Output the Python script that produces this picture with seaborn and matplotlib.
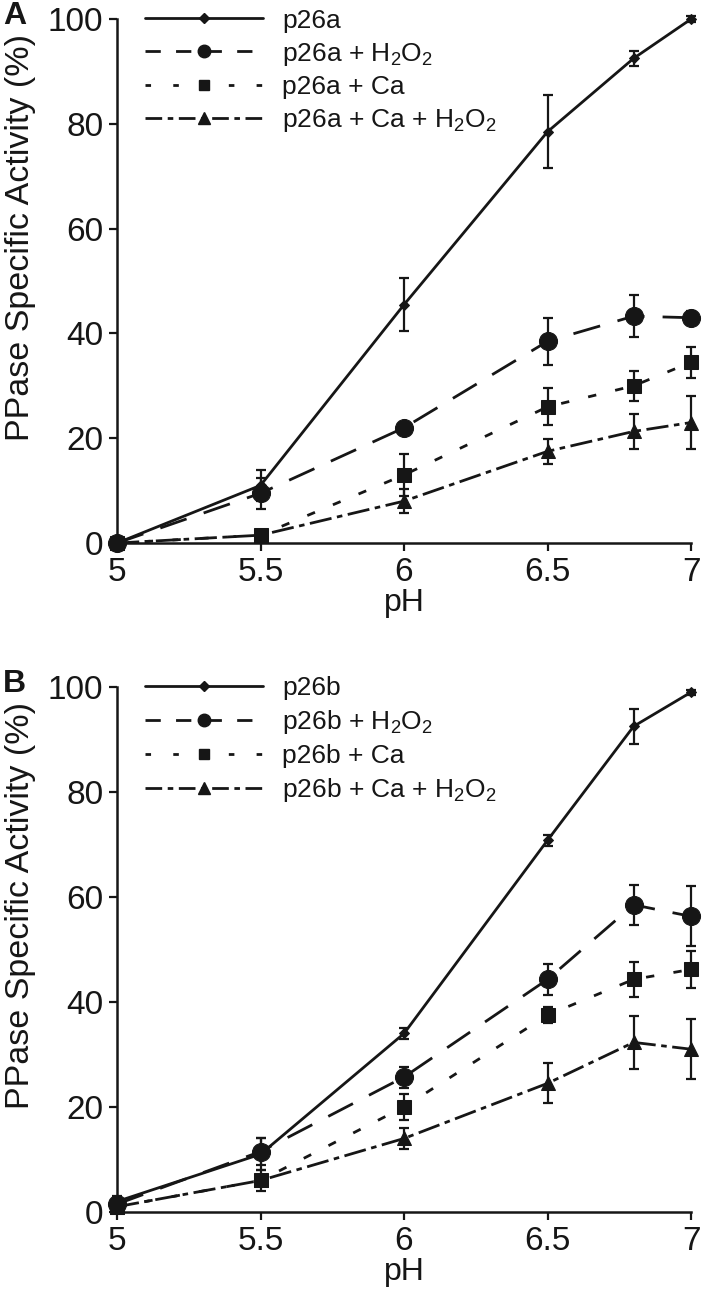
import numpy as np
import pandas as pd
import matplotlib
matplotlib.use("Agg")
import matplotlib.pyplot as plt
import seaborn as sns
from matplotlib.lines import Line2D

sns.set_theme(style="ticks")
plt.rcParams['font.family'] = ['Liberation Sans', 'DejaVu Sans']
plt.rcParams['mathtext.fontset'] = 'custom'
plt.rcParams['mathtext.rm'] = 'Liberation Sans'
plt.rcParams['mathtext.it'] = 'Liberation Sans'

ph = [5, 5.5, 6, 6.5, 6.8, 7]

# Panel A
a_p26a = [0, 11, 45.5, 78.5, 92.5, 100]
a_p26a_err = [0.5, 3, 5, 7, 1.5, 0.5]
a_h2o2 = [0, 9.5, 22, 38.5, 43.3, 43]
a_h2o2_err = [0.5, 3, 1, 4.5, 4, 1.2]
a_ca = [0, 1.5, 13, 26, 30, 34.5]
a_ca_err = [0.3, 0.5, 4, 3.5, 2.8, 3]
a_cah2o2 = [0, 1.5, 8, 17.5, 21.3, 23]
a_cah2o2_err = [0.3, 0.5, 2.3, 2.4, 3.3, 5]

# Panel B
b_p26b = [2, 11, 34, 70.8, 92.5, 99]
b_p26b_err = [1, 3, 1, 1, 3.3, 0.5]
b_h2o2 = [1.5, 11.5, 25.7, 44.3, 58.5, 56.3]
b_h2o2_err = [1, 2.5, 2, 3, 3.8, 5.7]
b_ca = [1, 6, 20, 37.5, 44.3, 46.2]
b_ca_err = [0.5, 2, 2.5, 1.5, 3.3, 3.6]
b_cah2o2 = [1, 6, 14, 24.5, 32.3, 31]
b_cah2o2_err = [0.5, 1, 2, 3.8, 5, 5.7]

labels_a = ['p26a', 'p26a + H$_2$O$_2$', 'p26a + Ca', 'p26a + Ca + H$_2$O$_2$']
labels_b = ['p26b', 'p26b + H$_2$O$_2$', 'p26b + Ca', 'p26b + Ca + H$_2$O$_2$']

col = '#161616'
LW = 2.0
styles = [
    dict(marker='D', ms=5.5, lms=5.0, dashes=None, ldashes=None),
    dict(marker='o', ms=13, lms=9, dashes=(10, 6.5), ldashes=(5.5, 5.5)),
    dict(marker='s', ms=9.5, lms=7.5, dashes=(3, 7), ldashes=(2, 8)),
    dict(marker='^', ms=10, lms=8, dashes=(8, 2, 2, 2), ldashes=(6, 2, 2, 2)),
]

fig = plt.figure(figsize=(7.02, 13.06), dpi=100)
axA = fig.add_axes([0.1667, 0.5842, 0.8177, 0.4012])
axB = fig.add_axes([0.1667, 0.0720, 0.8177, 0.4020])


def draw(ax, series, errs, labels, letter):
    handles = []
    for vals, err, lab, st in zip(series, errs, labels, styles):
        df = pd.DataFrame({'pH': ph, 'act': vals})
        sns.lineplot(data=df, x='pH', y='act', ax=ax, color=col, lw=LW,
                     marker=st['marker'], markersize=st['ms'],
                     markeredgecolor=col, markerfacecolor=col,
                     clip_on=False, zorder=3)
        ln = ax.get_lines()[-1]
        if st['dashes'] is not None:
            ln.set_dashes(st['dashes'])
        ax.errorbar(ph, vals, yerr=err, fmt='none', ecolor=col, elinewidth=1.6,
                    capsize=3.8, capthick=1.6, clip_on=False, zorder=2)
        h = Line2D([], [], color=col, lw=LW, marker=st['marker'],
                   markersize=st['lms'], markerfacecolor=col, markeredgecolor=col)
        if st['ldashes'] is not None:
            h.set_dashes(st['ldashes'])
        handles.append(h)
    ax.set_xlim(5, 7)
    ax.set_ylim(0, 100)
    ax.set_xticks([5, 5.5, 6, 6.5, 7])
    ax.set_xticklabels(['5', '5.5', '6', '6.5', '7'])
    ax.set_yticks([0, 20, 40, 60, 80, 100])
    ax.tick_params(axis='both', labelsize=24, colors=col, length=6, width=1.6,
                   direction='out', pad=4)
    for s in ['top', 'right']:
        ax.spines[s].set_visible(False)
    for s in ['left', 'bottom']:
        ax.spines[s].set_linewidth(1.8)
        ax.spines[s].set_color(col)
    ax.set_xlabel('pH', fontsize=23, color=col, labelpad=0)
    ax.set_ylabel('PPase Specific Activity (%)', fontsize=24.5, color=col)
    ax.yaxis.set_label_coords(-0.141, 0.584)
    leg = ax.legend(handles, labels, loc='upper left', bbox_to_anchor=(0.049, 1.02),
                    frameon=False, fontsize=19, handlelength=4.47, handletextpad=0.72,
                    labelspacing=0.3, borderaxespad=0, borderpad=0)
    for t in leg.get_texts():
        t.set_color(col)
    ax.text(-0.199, 1.005, letter, transform=ax.transAxes, fontsize=23, fontweight='bold',
            va='center', ha='left', color=col)


draw(axA, [a_p26a, a_h2o2, a_ca, a_cah2o2],
     [a_p26a_err, a_h2o2_err, a_ca_err, a_cah2o2_err], labels_a, 'A')
draw(axB, [b_p26b, b_h2o2, b_ca, b_cah2o2],
     [b_p26b_err, b_h2o2_err, b_ca_err, b_cah2o2_err], labels_b, 'B')

fig.savefig('out.png', dpi=100)
